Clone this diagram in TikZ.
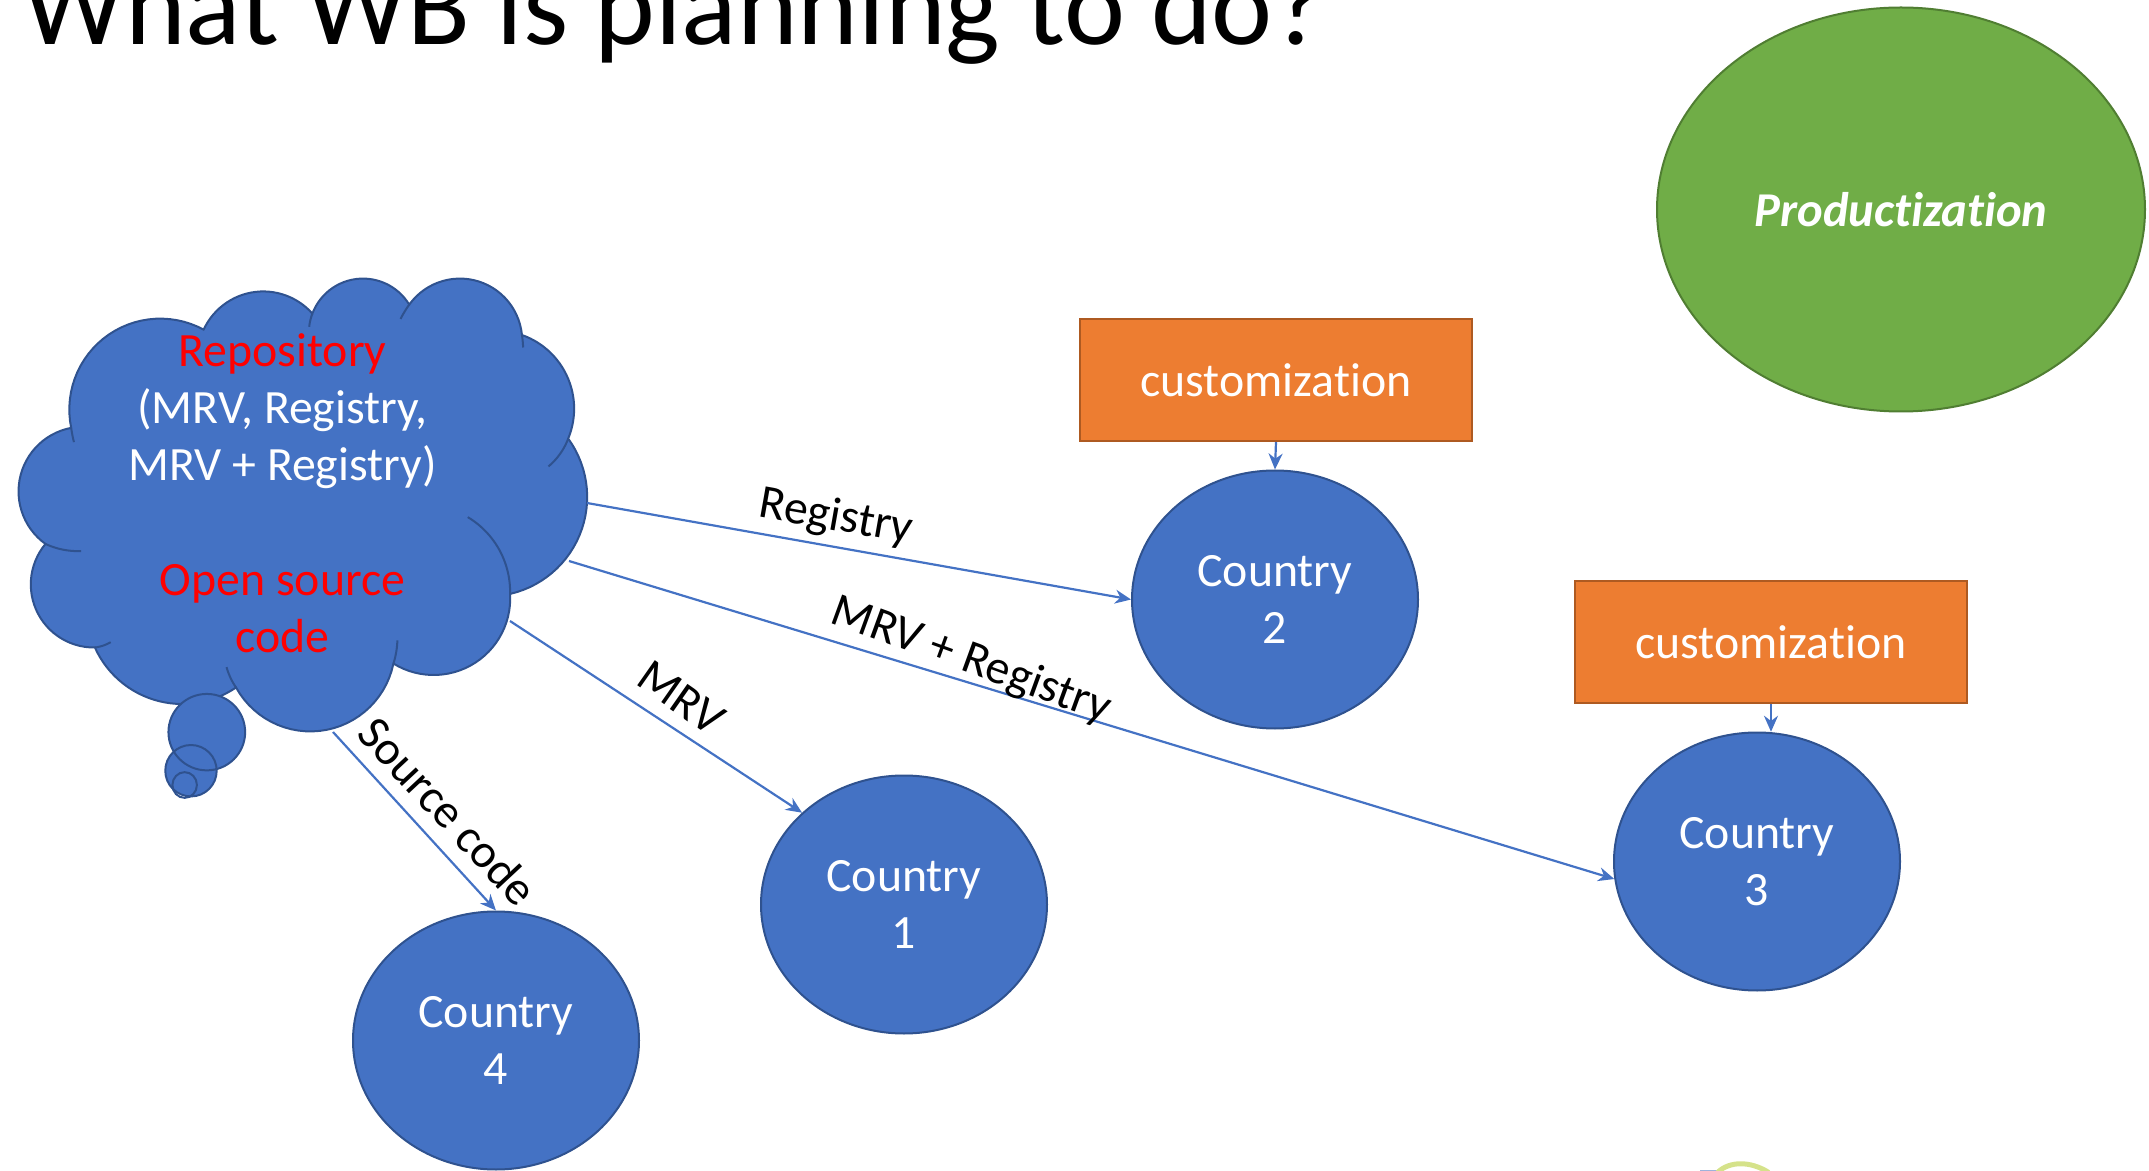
\documentclass[tikz,border=0pt]{standalone}
\usepackage{fontspec}
\setmainfont{Carlito}[Ligatures=NoCommon]
\usetikzlibrary{shapes.geometric,arrows.meta}
\definecolor{wbblue}{HTML}{4472C4}
\definecolor{wbedge}{HTML}{2F528F}
\definecolor{wborange}{HTML}{ED7D31}
\definecolor{wborangeedge}{HTML}{AE5A21}
\definecolor{wbgreen}{HTML}{70AD47}
\definecolor{wbgreenedge}{HTML}{507E32}
\definecolor{logogreen}{HTML}{D5E28A}
\definecolor{logoblue}{HTML}{9DB2DC}
\tikzset{
  txt/.style={font=\fontsize{23.9}{28.6}\selectfont,align=center,inner sep=0pt},
  country/.style={ellipse,draw=wbedge,fill=wbblue,line width=1pt,minimum width=143pt,minimum height=129pt,inner sep=0pt,text=white,txt},
  custombox/.style={rectangle,draw=wborangeedge,fill=wborange,line width=1pt,minimum width=196pt,minimum height=61pt,inner sep=0pt,text=white,txt},
  link/.style={draw=wbblue,line width=1.1pt,-{Stealth[length=8pt,width=7pt]}},
  lbl/.style={txt,text=black},
  cloudline/.style={draw=wbedge,line width=1pt},
}
% circular arc through three points read from a crop (2.529 per pixel across, 2.8 down, from y=260)
\newcommand{\arcdata}[6]{%
  \edef\pax{\fpeval{#1/2.529}}\edef\pay{\fpeval{260+#2/2.8}}%
  \edef\pmx{\fpeval{#3/2.529}}\edef\pmy{\fpeval{260+#4/2.8}}%
  \edef\pbx{\fpeval{#5/2.529}}\edef\pby{\fpeval{260+#6/2.8}}%
  \edef\pdd{\fpeval{2*(\pax*(\pmy-\pby)+\pmx*(\pby-\pay)+\pbx*(\pay-\pmy))}}%
  \edef\psa{\fpeval{\pax*\pax+\pay*\pay}}\edef\psm{\fpeval{\pmx*\pmx+\pmy*\pmy}}\edef\psb{\fpeval{\pbx*\pbx+\pby*\pby}}%
  \edef\pux{\fpeval{round((\psa*(\pmy-\pby)+\psm*(\pby-\pay)+\psb*(\pay-\pmy))/\pdd,3)}}%
  \edef\puy{\fpeval{round((\psa*(\pbx-\pmx)+\psm*(\pax-\pbx)+\psb*(\pmx-\pax))/\pdd,3)}}%
  \edef\prr{\fpeval{round(sqrt((\pax-\pux)*(\pax-\pux)+(\pay-\puy)*(\pay-\puy)),3)}}%
  \edef\pta{\fpeval{atand(\pay-\puy,\pax-\pux)}}%
  \edef\ptm{\fpeval{atand(\pmy-\puy,\pmx-\pux)}}%
  \edef\ptb{\fpeval{atand(\pby-\puy,\pbx-\pux)}}%
  \edef\pda{\fpeval{\ptm-\pta+720-360*trunc((\ptm-\pta+720)/360)}}%
  \edef\pdb{\fpeval{\ptb-\pta+720-360*trunc((\ptb-\pta+720)/360)}}%
  \edef\ptend{\fpeval{round(\pta+((\pda<\pdb)?\pdb:(\pdb-360)),3)}}%
  \edef\ptstart{\fpeval{round(\pta,3)}}%
}
\let\cvar\relax
\newcommand{\arcplot}{plot[domain=\ptstart:\ptend,samples=30,variable=\cvar] ({\pux+\prr*cos(\cvar)},{\puy+\prr*sin(\cvar)})}
\gdef\cloudpath{}
\newcommand{\addlobe}[6]{\arcdata{#1}{#2}{#3}{#4}{#5}{#6}\xdef\cloudpath{\cloudpath\arcplot --}}
\newcommand{\innerarc}[6]{\arcdata{#1}{#2}{#3}{#4}{#5}{#6}\edef\tmppath{\arcplot}\draw[cloudline] \tmppath;}
\begin{document}
\begin{tikzpicture}[x=0.5pt,y=-0.5pt]
\useasboundingbox (0,0) rectangle (2149,1171);
\clip (0,0) rectangle (2149,1171);
% title
\node[anchor=base west,inner sep=0pt,font=\fontsize{57.8}{64}\selectfont] (title) at (22,45) {What WB is planning to do?};
% green ellipse
\node[ellipse,draw=wbgreenedge,fill=wbgreen,line width=1pt,minimum width=244pt,minimum height=202pt,inner sep=0pt,text=white,txt,font=\fontsize{24.3}{28.6}\selectfont\bfseries\itshape] (prod) at (1901,209.5) {Productization};
% cloud
\addlobe{115}{795}{47}{640}{180}{470}
\addlobe{180}{470}{255}{226}{515}{195}
\addlobe{515}{195}{665}{88}{790}{150}
\addlobe{790}{150}{920}{52}{1035}{125}
\addlobe{1035}{125}{1160}{52}{1320}{210}
\addlobe{1320}{210}{1452}{420}{1437}{500}
\addlobe{1437}{500}{1485}{665}{1290}{935}
\addlobe{1290}{935}{1095}{1162}{995}{1130}
\addlobe{995}{1130}{785}{1320}{597}{1197}
\addlobe{597}{1197}{450}{1243}{240}{1085}
\addlobe{240}{1085}{78}{915}{115}{795}
\draw[fill=wbblue,cloudline] \cloudpath cycle;
\innerarc{180}{470}{183}{490}{187}{510}
\innerarc{790}{150}{785}{168}{782}{187}
\innerarc{1035}{125}{1023}{145}{1013}{165}
\innerarc{1320}{210}{1322}{228}{1323}{245}
\innerarc{1437}{500}{1415}{545}{1387}{578}
\innerarc{115}{795}{155}{810}{205}{815}
\innerarc{1183}{720}{1262}{810}{1290}{935}
\innerarc{995}{1130}{1002}{1098}{1005}{1065}
\innerarc{597}{1197}{583}{1170}{573}{1140}
\innerarc{240}{1085}{260}{1080}{280}{1070}
\begin{scope}[shift={(0,260)},x=0.19771pt,y=-0.17857pt]
\fill[wbblue] (523,1322) ellipse[x radius=97,y radius=107];
\fill[wbblue] (483,1430) ellipse[x radius=65,y radius=72];
\draw[cloudline] (523,1322) ellipse[x radius=97,y radius=107];
\draw[cloudline] (483,1430) ellipse[x radius=65,y radius=72];
\draw[cloudline] (467,1470) ellipse[x radius=31,y radius=36];
\end{scope}
\node[txt,text=white] (cloudtext) at (282.5,493) {\textcolor{red}{Repository}\\(MRV, Registry,\\MRV + Registry)\\[28.6pt]\textcolor{red}{Open source}\\\textcolor{red}{code}};
% boxes
\node[custombox] (b1) at (1276,380) {customization};
\node[custombox] (b2) at (1771,642) {customization};
% countries
\node[country] (c2) at (1275,599.5) {Country\\2};
\node[country] (c3) at (1757,861.5) {Country\\3};
\node[country] (c1) at (904,904.5) {Country\\1};
\node[country] (c4) at (496,1040.5) {Country\\4};
% free ends at the cloud
\coordinate (sreg) at (587,503);
\coordinate (smix) at (569,561);
\coordinate (smrv) at (510,621);
\coordinate (ssrc) at (333,732);
% connectors
\draw[link] (sreg) -- (c2.west);
\draw[link] (smix) -- (c3.187);
\draw[link] (smrv) -- (c1.138);
\draw[link] (ssrc) -- (c4.north);
\draw[link] (b1.south) -- (c2.north);
\draw[link] (b2.south) -- (b2.south |- c3.86);
% labels
\node[lbl,rotate=-10] (lreg) at (836,518) {Registry};
\node[lbl,rotate=-20] (lmix) at (971,661) {MRV + Registry};
\node[lbl,rotate=-35] (lmrv) at (681,698) {MRV};
\node[lbl,rotate=-47] (lsrc) at (448,811) {Source code};
% logo fragment
\draw[draw=logoblue,line width=1.5pt] (1700,1171) -- (1724,1171);
\draw[draw=logogreen,line width=2.5pt,line cap=round] (1718,1172) .. controls (1730,1161) and (1750,1161) .. (1768,1172);
\end{tikzpicture}
\end{document}
